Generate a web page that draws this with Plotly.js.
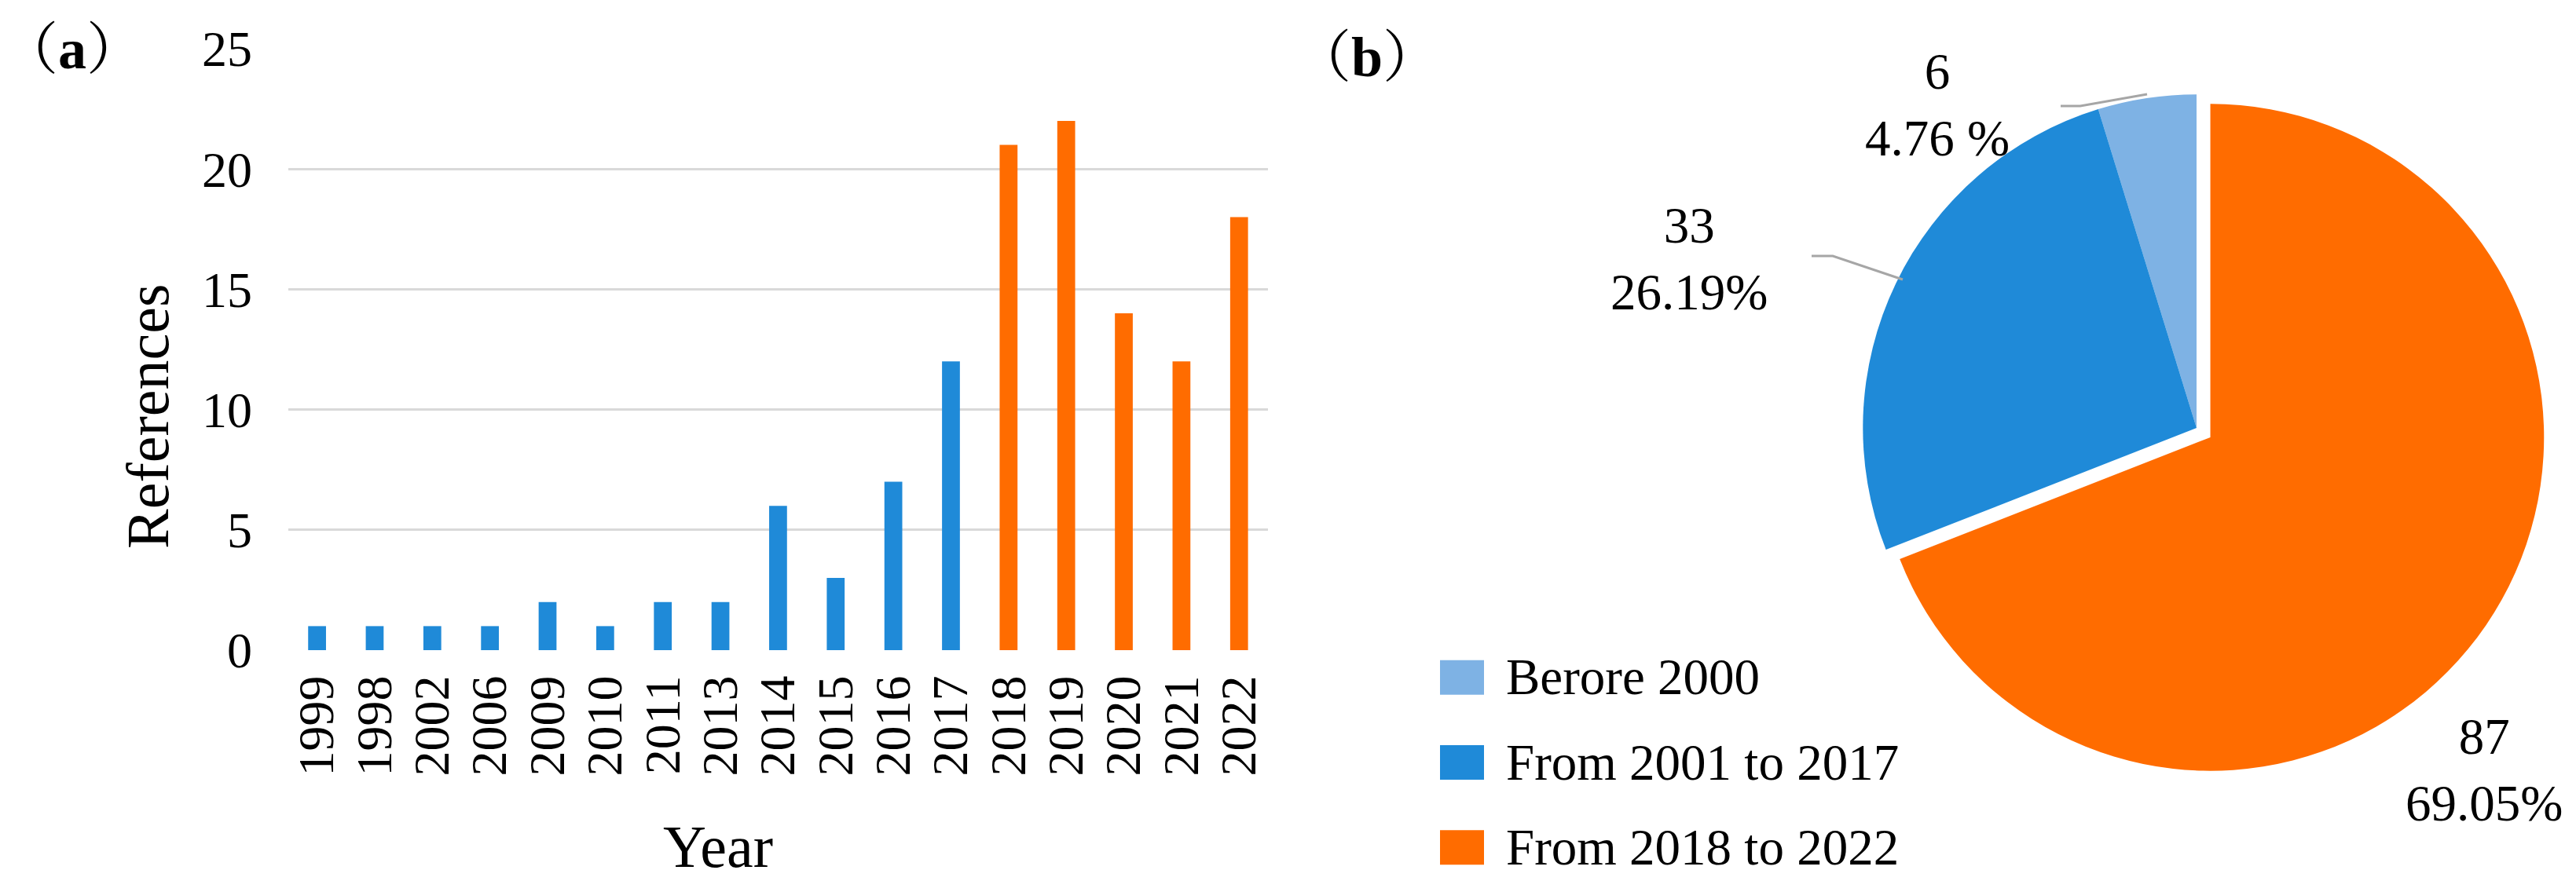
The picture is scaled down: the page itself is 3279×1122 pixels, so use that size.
<!DOCTYPE html>
<html><head><meta charset="utf-8">
<script src="https://cdn.plot.ly/plotly-3.0.1.min.js"></script>
<style>html,body{margin:0;padding:0;background:#fff}#chart{width:3279px;height:1122px}</style>
</head><body><div id="chart"></div>
<script>
// ---- data ----
const years = ['1999','1998','2002','2006','2009','2010','2011','2013','2014','2015','2016','2017','2018','2019','2020','2021','2022'];
const references = [1,1,1,1,2,1,2,2,6,3,7,12,21,22,14,12,18];
const yTicks = [0,5,10,15,20,25];
const pieLabels = ['Berore 2000','From 2001 to 2017','From 2018 to 2022'];
const pieValues = [6,33,87];
const piePercentText = ['4.76 %','26.19%','69.05%'];

// ---- styles ----
const F = 'Liberation Serif, Times New Roman, serif';
const CJK = 'Liberation Serif, Noto Serif CJK SC, Noto Sans CJK SC, serif';
const BLUE = '#1F8AD8', ORANGE = '#FF6C00', LIGHT = '#7EB2E4';
const pieColors = [LIGHT, BLUE, ORANGE];
const barColors = years.map(y => Number(y) >= 2018 ? ORANGE : BLUE);
const W = 3279, H = 1122;
const px = x => x / W, py = y => 1 - y / H;
const pieTotal = pieValues.reduce((a, b) => a + b, 0);

const bar = {
  type: 'bar', x: years, y: references, marker: {color: barColors},
  showlegend: false, hoverinfo: 'x+y'
};
const pie = {
  type: 'pie', labels: pieLabels.map(l => '<span style="font-size:65px">' + l + '</span>'),
  values: pieValues, sort: false, direction: 'counterclockwise',
  rotation: -360 * pieValues[0] / pieTotal,
  marker: {colors: pieColors, line: {width: 0}},
  pull: [0, 0, 0.05], textinfo: 'none',
  domain: {x: [0.7167, 0.9887], y: [0.1168, 0.9118]}
};

// pie label positions (layout only)
const pieLabelPos = [[2466, 134], [2150, 329], [3162, 980]];
const pieAnn = pieValues.map((v, i) => ({
  xref: 'paper', yref: 'paper', x: px(pieLabelPos[i][0]), y: py(pieLabelPos[i][1]),
  xanchor: 'center', yanchor: 'middle', showarrow: false,
  text: v + '<br>' + piePercentText[i], font: {family: F, size: 65, color: '#000'}
}));

const leader = pts => ({
  type: 'path', xref: 'paper', yref: 'paper',
  path: pts.map((p, i) => (i ? 'L' : 'M') + px(p[0]) + ',' + py(p[1])).join(' '),
  line: {color: '#A6A6A6', width: 3}
});

const layout = {
  width: W, height: H, paper_bgcolor: '#fff', plot_bgcolor: '#fff',
  margin: {l: 0, r: 0, t: 0, b: 0, autoexpand: false},
  xaxis: {domain: [0.1119, 0.4922], type: 'category', tickangle: -90,
    tickmode: 'array', tickvals: years, ticktext: years,
    tickfont: {family: F, size: 64, color: '#000'}, ticks: 'outside', ticklen: 6,
    tickcolor: 'rgba(0,0,0,0)', showgrid: false, zeroline: false, showline: false},
  yaxis: {domain: [0.262, 0.9447], range: [0, 25], tickvals: yTicks,
    showgrid: true, gridcolor: '#D9D9D9', gridwidth: 3, zeroline: false, showline: false,
    ticks: 'outside', ticklen: 32, tickcolor: 'rgba(0,0,0,0)',
    tickfont: {family: F, size: 64, color: '#000'}},
  bargap: 0.69,
  showlegend: true,
  legend: {x: px(1817), xanchor: 'left', y: 0.2928, yanchor: 'top',
    font: {family: F, size: 81, color: '#000'}, itemwidth: 90,
    bgcolor: 'rgba(0,0,0,0)', traceorder: 'normal'},
  annotations: [
    {xref: 'paper', yref: 'paper', x: px(92), y: py(63), showarrow: false, xanchor: 'center', yanchor: 'middle',
      text: '（<b>a</b>）', font: {family: CJK, size: 72, color: '#000'}},
    {xref: 'paper', yref: 'paper', x: px(1740), y: py(73), showarrow: false, xanchor: 'center', yanchor: 'middle',
      text: '（<b>b</b>）', font: {family: CJK, size: 72, color: '#000'}},
    {xref: 'paper', yref: 'paper', x: px(188), y: py(530), showarrow: false, textangle: -90,
      xanchor: 'center', yanchor: 'middle', text: 'References', font: {family: F, size: 76, color: '#000'}},
    {xref: 'paper', yref: 'paper', x: px(914), y: 0, showarrow: false,
      xanchor: 'center', yanchor: 'bottom', text: 'Year', font: {family: F, size: 76, color: '#000'}}
  ].concat(pieAnn),
  shapes: [
    leader([[2623, 135], [2648, 135], [2733, 120]]),
    leader([[2306, 326], [2333, 326], [2422, 356]])
  ]
};

Plotly.newPlot('chart', [bar, pie], layout, {displayModeBar: false, responsive: false}).then(gd => {
  gd.querySelectorAll('.legend path.legendpie').forEach(p => {
    p.setAttribute('d', 'M-28,-22H28V22H-28Z');
    p.setAttribute('transform', 'translate(44,10)');
  });
});
</script></body></html>
